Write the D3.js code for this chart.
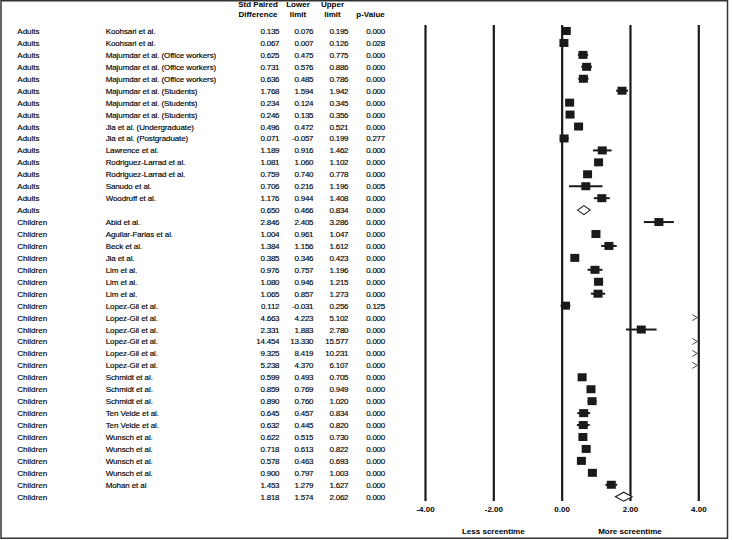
<!DOCTYPE html>
<html>
<head>
<meta charset="utf-8">
<script src="https://cdn.jsdelivr.net/npm/d3@7/dist/d3.min.js"></script>
<style>
  html, body { margin: 0; padding: 0; background: #fff; }
  svg { display: block; }
  text { font-family: "Liberation Sans", Arial, sans-serif; fill: #000; }
</style>
</head>
<body>
<script>
// ---- data ----
const groups = [
  "Adults","Adults","Adults","Adults","Adults","Adults","Adults","Adults","Adults","Adults",
  "Adults","Adults","Adults","Adults","Adults","Adults",
  "Children","Children","Children","Children","Children","Children","Children","Children",
  "Children","Children","Children","Children","Children","Children","Children","Children",
  "Children","Children","Children","Children","Children","Children","Children","Children"
];
const studies = [
  "Koohsari et al.","Koohsari et al.",
  "Majumdar et al. (Office workers)","Majumdar et al. (Office workers)","Majumdar et al. (Office workers)",
  "Majumdar et al. (Students)","Majumdar et al. (Students)","Majumdar et al. (Students)",
  "Jia et al. (Undergraduate)","Jia et al. (Postgraduate)","Lawrence et al.",
  "Rodriguez-Larrad et al.","Rodriguez-Larrad et al.","Sanudo et al.","Woodruff et al.","",
  "Abid et al.","Aguilar-Farias et al.","Beck et al.","Jia et al.","Lim et al.","Lim et al.","Lim et al.",
  "Lopez-Gil et al.","Lopez-Gil et al.","Lopez-Gil et al.","Lopez-Gil et al.","Lopez-Gil et al.","Lopez-Gil et al.",
  "Schmidt et al.","Schmidt et al.","Schmidt et al.","Ten Velde et al.","Ten Velde et al.",
  "Wunsch et al.","Wunsch et al.","Wunsch et al.","Wunsch et al.","Mohan et al",""
];
const diffs = [0.135,0.067,0.625,0.731,0.636,1.768,0.234,0.246,0.496,0.071,1.189,1.081,0.759,0.706,1.176,0.650,
  2.846,1.004,1.384,0.385,0.976,1.080,1.065,0.112,4.663,2.331,14.454,9.325,5.238,0.599,0.859,0.890,0.645,0.632,
  0.622,0.718,0.578,0.900,1.453,1.818];
const lowers = [0.076,0.007,0.475,0.576,0.485,1.594,0.124,0.135,0.472,-0.057,0.916,1.060,0.740,0.216,0.944,0.466,
  2.405,0.961,1.156,0.346,0.757,0.946,0.857,-0.031,4.223,1.883,13.330,8.419,4.370,0.493,0.769,0.760,0.457,0.445,
  0.515,0.613,0.463,0.797,1.279,1.574];
const uppers = [0.195,0.126,0.775,0.886,0.786,1.942,0.345,0.356,0.521,0.199,1.462,1.102,0.778,1.196,1.408,0.834,
  3.286,1.047,1.612,0.423,1.196,1.215,1.273,0.256,5.102,2.780,15.577,10.231,6.107,0.705,0.949,1.020,0.834,0.820,
  0.730,0.822,0.693,1.003,1.627,2.062];
const pvals = [0.000,0.028,0.000,0.000,0.000,0.000,0.000,0.000,0.000,0.277,0.000,0.000,0.000,0.005,0.000,0.000,
  0.000,0.000,0.000,0.000,0.000,0.000,0.000,0.125,0.000,0.000,0.000,0.000,0.000,0.000,0.000,0.000,0.000,0.000,
  0.000,0.000,0.000,0.000,0.000,0.000];
const tickValues = [-4, -2, 0, 2, 4];
const headers = [
  {lines: ["Std Paired", "Difference"], cx: 258},
  {lines: ["Lower", "limit"], cx: 298},
  {lines: ["Upper", "limit"], cx: 332.5},
  {lines: ["", "p-Value"], cx: 370.5}
];
const directionLabels = [{text: "Less screentime", at: -2}, {text: "More screentime", at: 2}];

const rows = groups.map((g, i) => ({
  i, group: g, study: studies[i], diff: diffs[i], lo: lowers[i], hi: uppers[i], p: pvals[i],
  summary: studies[i] === ""
}));

// ---- layout ----
const W = 732, H = 540;
const svg = d3.select("body").append("svg").attr("width", W).attr("height", H);

svg.append("rect").attr("x", 1).attr("y", 0.75).attr("width", 726.5).attr("height", 537.5)
  .attr("fill", "none").attr("stroke", "#333").attr("stroke-width", 1.5);

const x = d3.scaleLinear().domain([-4, 4]).range([425, 698.3]);
const y = d3.scaleLinear().domain([0, rows.length - 1]).range([31, 496.7]);
const plotTop = 25, plotBottom = 501;

// headers
const hdr = svg.append("g").attr("font-size", 8).attr("font-weight", "bold").attr("text-anchor", "middle");
headers.forEach(h => {
  h.lines.forEach((t, k) => {
    if (!t) return;
    hdr.append("text").attr("x", h.cx).attr("y", 4 + k * 10).attr("dominant-baseline", "central").text(t);
  });
});

// table
const tbl = svg.append("g").attr("font-size", 8).attr("stroke", "#000").attr("stroke-width", 0.15);
const rowG = tbl.selectAll("g.row").data(rows).join("g").attr("class", "row")
  .attr("transform", d => `translate(0,${y(d.i) + 0.5})`);
rowG.append("text").attr("x", 17.3).attr("dominant-baseline", "central").text(d => d.group);
rowG.append("text").attr("x", 105.7).attr("dominant-baseline", "central").attr("letter-spacing", -0.1).text(d => d.study);
const numCols = [
  {key: "diff", xr: 279.3}, {key: "lo", xr: 313.3}, {key: "hi", xr: 348.3}, {key: "p", xr: 385}
];
numCols.forEach(c => {
  rowG.append("text").attr("x", c.xr).attr("text-anchor", "end").attr("dominant-baseline", "central")
    .attr("letter-spacing", -0.25)
    .text(d => d[c.key].toFixed(3));
});

// axis with full-height grid lines
const axis = d3.axisBottom(x).tickValues(tickValues).tickSize(-(plotBottom - plotTop))
  .tickPadding(5).tickFormat(d => d.toFixed(2));
const ag = svg.append("g").attr("transform", `translate(0,${plotBottom})`).call(axis);
ag.select(".domain").remove();
ag.selectAll(".tick line").attr("stroke", "#1a1a1a").attr("stroke-width", 2.2);
ag.selectAll(".tick text").attr("font-size", 8).attr("font-weight", "bold")
  .attr("font-family", "'Liberation Sans', Arial, sans-serif").attr("fill", "#000");

// direction labels
svg.append("g").attr("font-size", 8).attr("font-weight", "bold").attr("text-anchor", "middle")
  .selectAll("text").data(directionLabels).join("text")
  .attr("x", d => x(d.at)).attr("y", 531).attr("dominant-baseline", "central").text(d => d.text);

// markers
const [xmin, xmax] = x.domain();
const marks = svg.append("g");
const inRange = rows.filter(d => d.lo <= xmax && d.hi >= xmin);
const offRight = rows.filter(d => d.lo > xmax);

marks.selectAll("line.ci").data(inRange.filter(d => !d.summary)).join("line").attr("class", "ci")
  .attr("x1", d => x(Math.max(d.lo, xmin))).attr("x2", d => x(Math.min(d.hi, xmax)))
  .attr("y1", d => y(d.i)).attr("y2", d => y(d.i))
  .attr("stroke", "#1a1a1a").attr("stroke-width", 2);

const sq = 9;
marks.selectAll("rect.pt").data(inRange.filter(d => !d.summary)).join("rect").attr("class", "pt")
  .attr("x", d => x(d.diff) - sq / 2).attr("y", d => y(d.i) - sq / 2 + 0.5)
  .attr("width", sq).attr("height", sq - 1).attr("fill", "#1a1a1a");

marks.selectAll("path.dia").data(rows.filter(d => d.summary)).join("path").attr("class", "dia")
  .attr("d", d => {
    const cy = y(d.i), h = 4.5;
    return `M${x(d.lo)},${cy} L${x(d.diff)},${cy - h} L${x(d.hi)},${cy} L${x(d.diff)},${cy + h} Z`;
  })
  .attr("fill", "#fff").attr("stroke", "#1a1a1a").attr("stroke-width", 1.1);

marks.selectAll("path.arrow").data(offRight).join("path").attr("class", "arrow")
  .attr("d", d => {
    const cy = y(d.i), xe = x(xmax) - 1;
    return `M${xe - 5},${cy - 3} L${xe},${cy} L${xe - 5},${cy + 3}`;
  })
  .attr("fill", "none").attr("stroke", "#444").attr("stroke-width", 1);
</script>
</body>
</html>
